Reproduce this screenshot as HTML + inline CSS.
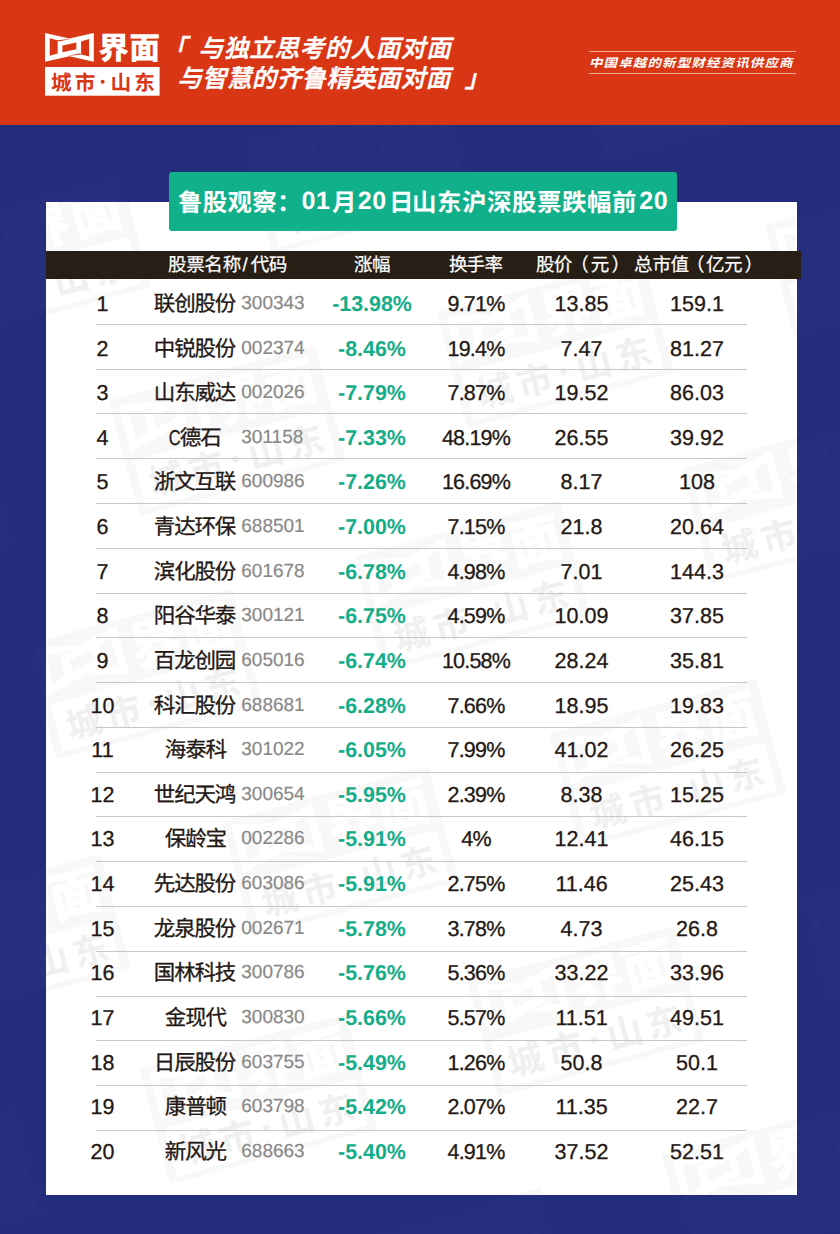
<!DOCTYPE html>
<html lang="zh-CN"><head><meta charset="utf-8"><title>鲁股观察：01月20日山东沪深股票跌幅前20</title><style>
*{box-sizing:border-box;margin:0;padding:0}
html,body{width:840px;height:1234px;overflow:hidden}
body{text-rendering:geometricPrecision;background:#232d7c;font-family:"Liberation Sans","Noto Sans CJK SC",sans-serif;color:#231815;position:relative}
svg text{font-family:"Liberation Sans","Noto Sans CJK SC",sans-serif}
svg.zh{display:inline-block;fill:currentColor;overflow:visible;vertical-align:top}
.top{position:absolute;left:0;top:0;width:840px;height:125px;background:#d93616;color:#fff}
.logo{position:absolute;left:45.3px;top:33.2px;overflow:visible}
.slogan{position:absolute;left:0;top:0}
.slogan .l1{position:absolute;left:-6px;top:35.3px;height:24px;white-space:nowrap}
.slogan .l2{position:absolute;left:-6px;top:65.3px;height:24px;white-space:nowrap}
.tagline{position:absolute;left:589px;top:51px;width:207px;height:22.5px;border-top:1px solid rgba(255,255,255,.6);border-bottom:1px solid rgba(255,255,255,.6);padding-top:4.2px;white-space:nowrap}
.tagline svg{margin-left:-3.6px}
.card{position:absolute;left:46px;top:202px;width:751px;height:993px;background:#fff}
.wm{position:absolute;left:0;top:0;overflow:hidden}

.wmbg{position:absolute;left:0;top:0;overflow:hidden}

.title{position:absolute;left:123px;top:-30px;width:508px;height:59.2px;background:#10b08b;border-radius:3px;color:#fff;font-weight:bold;font-size:24.6px;}
.title .t{position:absolute;top:16.7px;height:25px;line-height:25px;white-space:nowrap}
.title .t.d{font-size:25px;top:17px;letter-spacing:.6px}
.thead{position:absolute;left:0;top:49.2px;width:754.5px;height:27.4px;background:#271e15;color:#fff}
.thead .h{position:absolute;top:4.3px;height:19px;white-space:nowrap}
svg.hl{stroke:currentColor;stroke-width:12}
svg.sl{stroke:currentColor;stroke-width:20}
svg.nm{stroke:currentColor;stroke-width:14}
.lat+svg.nm{margin-right:1px}
.rows{position:absolute;left:0;top:78.2px;width:751px}
.row{position:relative;height:44.63px;margin:0 50.3px 0 49.9px;font-size:21.5px;-webkit-text-stroke:.3px currentColor;line-height:44.63px}
.ln{position:absolute;left:50.1px;width:650.8px;height:1px;background:#c9c6c1}
.c{position:absolute;transform:translateX(.8px);top:1.7px;height:44.63px;white-space:nowrap;text-align:center}
.c svg.zh{margin-top:10px}
.idx{left:-19.2px;width:50px}
.name{left:38.3px;width:120px}
.name .lat{display:inline-block;width:11.6px;margin-right:0;margin-left:0;text-align:left;font-size:21.5px;vertical-align:top;transform:scaleX(.77);transform-origin:left center}
.code{left:144.6px;text-align:left;color:#898989;font-size:19px;-webkit-text-stroke:.2px currentColor}
.pct{left:215.3px;width:120px;color:#14ad89;font-weight:bold;font-size:21.4px;-webkit-text-stroke:0}
.tr{left:319.3px;width:120px;letter-spacing:-.8px}
.pr{left:424.8px;width:120px}
.mc{left:540.3px;width:120px}
</style></head><body><svg width="0" height="0" style="position:absolute" aria-hidden="true"><defs><g id="wm"><path fill="#f8f8f8" d="M-4.8 -3.2H119.4V66H-4.8Z"/><g fill="#fff"><path fill-rule="evenodd" d="M0 0L24.4 5.6L48.8 0V28.8L24.4 23.2L0 28.8ZM4.7 5.2L12.7 7.3V20.4L4.7 22.7ZM44.1 23.6L36.1 21.5V8.4L44.1 6.1ZM17.45 12.45L31.35 9.55V16.35L17.45 19.25ZM12.7 7.3L26.5 5.7L13.6 8.5ZM36.1 21.5L22.3 23.1L35.2 20.3Z"/><text x="53.3 84.2" y="26.4" font-size="30.8" font-weight="900">界面</text><path d="M0 34H114.6V62.7H0Z"/></g><g fill="#f0f0f0"><text x="5.9 29.7" y="56.9" font-size="20.6" font-weight="bold">城市</text><circle cx="57.6" cy="48.8" r="2"/><text x="65.4 89.2" y="56.9" font-size="20.6" font-weight="bold">山东</text></g></g><g id="wmb"><path fill="#fff" fill-opacity=".007" d="M-4.8 -3.2H119.4V66H-4.8Z"/><g fill="#fff" fill-opacity=".013"><path fill-rule="evenodd" d="M0 0L24.4 5.6L48.8 0V28.8L24.4 23.2L0 28.8ZM4.7 5.2L12.7 7.3V20.4L4.7 22.7ZM44.1 23.6L36.1 21.5V8.4L44.1 6.1ZM17.45 12.45L31.35 9.55V16.35L17.45 19.25ZM12.7 7.3L26.5 5.7L13.6 8.5ZM36.1 21.5L22.3 23.1L35.2 20.3Z"/><text x="53.3 84.2" y="26.4" font-size="30.8" font-weight="900">界面</text><path d="M0 34H114.6V62.7H0Z"/></g></g></defs></svg><svg class="wmbg" aria-hidden="true" width="840" height="1234" viewBox="0 0 840 1234"><use href="#wmb" transform="translate(5.42 -16.88) rotate(-15) scale(1.72)"/><use href="#wmb" transform="translate(333.25 -104.72) rotate(-15) scale(1.72)"/><use href="#wmb" transform="translate(-76.71 230.66) rotate(-15) scale(1.72)"/><use href="#wmb" transform="translate(251.12 142.82) rotate(-15) scale(1.72)"/><use href="#wmb" transform="translate(578.96 54.98) rotate(-15) scale(1.72)"/><use href="#wmb" transform="translate(-209.65 491.82) rotate(-15) scale(1.72)"/><use href="#wmb" transform="translate(118.18 403.98) rotate(-15) scale(1.72)"/><use href="#wmb" transform="translate(446.02 316.13) rotate(-15) scale(1.72)"/><use href="#wmb" transform="translate(773.85 228.29) rotate(-15) scale(1.72)"/><use href="#wmb" transform="translate(35.02 647.65) rotate(-15) scale(1.72)"/><use href="#wmb" transform="translate(362.85 559.81) rotate(-15) scale(1.72)"/><use href="#wmb" transform="translate(690.69 471.97) rotate(-15) scale(1.72)"/><use href="#wmb" transform="translate(-96.88 912.67) rotate(-15) scale(1.72)"/><use href="#wmb" transform="translate(230.95 824.83) rotate(-15) scale(1.72)"/><use href="#wmb" transform="translate(558.79 736.99) rotate(-15) scale(1.72)"/><use href="#wmb" transform="translate(886.62 649.14) rotate(-15) scale(1.72)"/><use href="#wmb" transform="translate(-179.01 1160.22) rotate(-15) scale(1.72)"/><use href="#wmb" transform="translate(148.82 1072.37) rotate(-15) scale(1.72)"/><use href="#wmb" transform="translate(476.66 984.53) rotate(-15) scale(1.72)"/><use href="#wmb" transform="translate(804.49 896.69) rotate(-15) scale(1.72)"/><use href="#wmb" transform="translate(15.88 1333.53) rotate(-15) scale(1.72)"/><use href="#wmb" transform="translate(343.72 1245.68) rotate(-15) scale(1.72)"/><use href="#wmb" transform="translate(671.55 1157.84) rotate(-15) scale(1.72)"/></svg>
<header class="top">
  <svg class="logo" role="img" aria-label="界面 城市·山东" width="116" height="64" viewBox="0 0 116 64"><title>界面 城市·山东</title>
    <g fill="#fff"><path fill-rule="evenodd" d="M0 0L24.4 5.6L48.8 0V28.8L24.4 23.2L0 28.8ZM4.7 5.2L12.7 7.3V20.4L4.7 22.7ZM44.1 23.6L36.1 21.5V8.4L44.1 6.1ZM17.45 12.45L31.35 9.55V16.35L17.45 19.25ZM12.7 7.3L26.5 5.7L13.6 8.5ZM36.1 21.5L22.3 23.1L35.2 20.3Z"/><text x="53.3 84.2" y="26.4" font-size="30.8" font-weight="900">界面</text><rect x="0" y="34" width="114.6" height="28.7"/></g>
    <g fill="#d93616"><text x="5.9 29.7" y="56.9" font-size="20.6" font-weight="bold">城市</text><circle cx="57.6" cy="48.8" r="2"/><text x="65.4 89.2" y="56.9" font-size="20.6" font-weight="bold">山东</text></g>
  </svg>
  <div class="slogan">
    <div class="l1"><svg class="zh sl" role="img" aria-label="「与独立思考的人面对面" width="512" height="25.3" viewBox="-237.15 -880 20237.15 1000"><title>「与独立思考的人面对面</title><g transform="skewX(-12)"><text x="6407.11 7849.8 8849.8 9849.8 10849.8 11849.8 12849.8 13849.8 14849.8 15849.8 16849.8" y="0" font-size="970" font-weight="500">「与独立思考的人面对面</text></g></svg></div>
    <div class="l2"><svg class="zh sl" role="img" aria-label="与智慧的齐鲁精英面对面」" width="512" height="25.3" viewBox="-237.15 -880 20237.15 1000"><title>与智慧的齐鲁精英面对面」</title><g transform="skewX(-12)"><text x="7007.91 7990.12 8972.33 9954.55 10936.76 11918.97 12901.19 13883.4 14865.61 15847.83 16830.04 18371.54" y="0" font-size="970" font-weight="500">与智慧的齐鲁精英面对面」</text></g></svg></div>
  </div>
  <div class="tagline"><svg class="zh" role="img" aria-label="中国卓越的新型财经资讯供应商" width="212.68" height="12" viewBox="-333.33 -880 17723.33 1000"><title>中国卓越的新型财经资讯供应商</title><g transform="skewX(-14)"><text transform="scale(1.12 1)" x="0" y="0" font-size="1000" font-weight="bold" letter-spacing="87.8">中国卓越的新型财经资讯供应商</text></g></svg></div>
</header>
<main class="card"><svg class="wm" aria-hidden="true" width="751" height="993" viewBox="0 0 751 993"><use href="#wm" transform="translate(-40.58 -218.88) rotate(-15) scale(1.72)"/><use href="#wm" transform="translate(287.25 -306.72) rotate(-15) scale(1.72)"/><use href="#wm" transform="translate(-122.71 28.66) rotate(-15) scale(1.72)"/><use href="#wm" transform="translate(205.12 -59.18) rotate(-15) scale(1.72)"/><use href="#wm" transform="translate(532.96 -147.02) rotate(-15) scale(1.72)"/><use href="#wm" transform="translate(-255.65 289.82) rotate(-15) scale(1.72)"/><use href="#wm" transform="translate(72.18 201.98) rotate(-15) scale(1.72)"/><use href="#wm" transform="translate(400.02 114.13) rotate(-15) scale(1.72)"/><use href="#wm" transform="translate(727.85 26.29) rotate(-15) scale(1.72)"/><use href="#wm" transform="translate(-10.98 445.65) rotate(-15) scale(1.72)"/><use href="#wm" transform="translate(316.85 357.81) rotate(-15) scale(1.72)"/><use href="#wm" transform="translate(644.69 269.97) rotate(-15) scale(1.72)"/><use href="#wm" transform="translate(-142.88 710.67) rotate(-15) scale(1.72)"/><use href="#wm" transform="translate(184.95 622.83) rotate(-15) scale(1.72)"/><use href="#wm" transform="translate(512.79 534.99) rotate(-15) scale(1.72)"/><use href="#wm" transform="translate(840.62 447.14) rotate(-15) scale(1.72)"/><use href="#wm" transform="translate(-225.01 958.22) rotate(-15) scale(1.72)"/><use href="#wm" transform="translate(102.82 870.37) rotate(-15) scale(1.72)"/><use href="#wm" transform="translate(430.66 782.53) rotate(-15) scale(1.72)"/><use href="#wm" transform="translate(758.49 694.69) rotate(-15) scale(1.72)"/><use href="#wm" transform="translate(-30.12 1131.53) rotate(-15) scale(1.72)"/><use href="#wm" transform="translate(297.72 1043.68) rotate(-15) scale(1.72)"/><use href="#wm" transform="translate(625.55 955.84) rotate(-15) scale(1.72)"/></svg><h1 class="title"><span class="t" style="left:9.1px"><svg class="zh" role="img" aria-label="鲁股观察：" width="123.75" height="24.5" viewBox="0 -880 5051.02 1000"><title>鲁股观察：</title><text x="0 1010.2 2020.41 3030.61 4040.82" y="0" font-size="1000" font-weight="bold">鲁股观察：</text></svg></span><span class="t d" style="left:132.6px">01</span><span class="t" style="left:163.3px"><svg class="zh" role="img" aria-label="月" width="24.5" height="24.5" viewBox="0 -880 1000 1000"><title>月</title><text x="0" y="0" font-size="1000" font-weight="bold">月</text></svg></span><span class="t d" style="left:188.8px">20</span><span class="t" style="left:219.5px"><svg class="zh" role="img" aria-label="日" width="24.5" height="24.5" viewBox="0 -880 1000 1000"><title>日</title><text x="0" y="0" font-size="1000" font-weight="bold">日</text></svg></span><span class="t" style="left:243px"><svg class="zh" role="img" aria-label="山东沪深股票跌幅前" width="225" height="24.5" viewBox="0 -880 9183.67 1000"><title>山东沪深股票跌幅前</title><text x="0 1020.41 2040.82 3061.22 4081.63 5102.04 6122.45 7142.86 8163.27" y="0" font-size="1000" font-weight="bold">山东沪深股票跌幅前</text></svg></span><span class="t d" style="left:470.2px">20</span></h1><div class="thead"><span class="h" style="left:122.07px"><svg class="zh hl" role="img" aria-label="股票名称/代码" width="118.81" height="18.1" viewBox="0 -880 6564.01 1000"><title>股票名称/代码</title><text x="0 1007.57 2004.57 3024.1 4123.45 4577.54 5564.01" y="0" font-size="1000">股票名称/代码</text></svg></span><span class="h" style="left:308.4px"><svg class="zh hl" role="img" aria-label="涨幅" width="36" height="18.1" viewBox="0 -880 1989.1 1000"><title>涨幅</title><text x="0 989.1" y="0" font-size="1000">涨幅</text></svg></span><span class="h" style="left:403.05px"><svg class="zh hl" role="img" aria-label="换手率" width="53.53" height="18.1" viewBox="0 -880 2957.38 1000"><title>换手率</title><text x="0 969.43 1957.38" y="0" font-size="1000">换手率</text></svg></span><span class="h" style="left:490.07px"><svg class="zh hl" role="img" aria-label="股价（元）" width="93.6" height="18.1" viewBox="0 -880 5171.32 1000"><title>股价（元）</title><text x="0 986.95 1898.01 3031.2 4171.32" y="0" font-size="1000">股价（元）</text></svg></span><span class="h" style="left:588.42px"><svg class="zh hl" role="img" aria-label="总市值（亿元）" width="128.65" height="18.1" viewBox="0 -880 7107.5 1000"><title>总市值（亿元）</title><text x="0 1019.62 2011 2867.34 3978.85 4967.38 6107.5" y="0" font-size="1000">总市值（亿元）</text></svg></span></div><div class="rows"><div class="row"><span class="c idx">1</span><span class="c name"><svg class="zh nm" role="img" aria-label="联创股份" width="81.4" height="21.2" viewBox="0 -880 3839.62 1000"><title>联创股份</title><text x="0 959.91 1919.81 2879.72" y="0" font-size="1000">联创股份</text></svg></span><span class="c code">300343</span><span class="c pct">-13.98%</span><span class="c tr">9.71%</span><span class="c pr">13.85</span><span class="c mc">159.1</span></div>
<div class="row"><span class="c idx">2</span><span class="c name"><svg class="zh nm" role="img" aria-label="中锐股份" width="81.4" height="21.2" viewBox="0 -880 3839.62 1000"><title>中锐股份</title><text x="0 959.91 1919.81 2879.72" y="0" font-size="1000">中锐股份</text></svg></span><span class="c code">002374</span><span class="c pct">-8.46%</span><span class="c tr">19.4%</span><span class="c pr">7.47</span><span class="c mc">81.27</span></div>
<div class="row"><span class="c idx">3</span><span class="c name"><svg class="zh nm" role="img" aria-label="山东威达" width="81.4" height="21.2" viewBox="0 -880 3839.62 1000"><title>山东威达</title><text x="0 959.91 1919.81 2879.72" y="0" font-size="1000">山东威达</text></svg></span><span class="c code">002026</span><span class="c pct">-7.79%</span><span class="c tr">7.87%</span><span class="c pr">19.52</span><span class="c mc">86.03</span></div>
<div class="row"><span class="c idx">4</span><span class="c name"><span class="lat">C</span><svg class="zh nm" role="img" aria-label="德石" width="40.7" height="21.2" viewBox="0 -880 1919.81 1000"><title>德石</title><text x="0 959.91" y="0" font-size="1000">德石</text></svg></span><span class="c code">301158</span><span class="c pct">-7.33%</span><span class="c tr">48.19%</span><span class="c pr">26.55</span><span class="c mc">39.92</span></div>
<div class="row"><span class="c idx">5</span><span class="c name"><svg class="zh nm" role="img" aria-label="浙文互联" width="81.4" height="21.2" viewBox="0 -880 3839.62 1000"><title>浙文互联</title><text x="0 959.91 1919.81 2879.72" y="0" font-size="1000">浙文互联</text></svg></span><span class="c code">600986</span><span class="c pct">-7.26%</span><span class="c tr">16.69%</span><span class="c pr">8.17</span><span class="c mc">108</span></div>
<div class="row"><span class="c idx">6</span><span class="c name"><svg class="zh nm" role="img" aria-label="青达环保" width="81.4" height="21.2" viewBox="0 -880 3839.62 1000"><title>青达环保</title><text x="0 959.91 1919.81 2879.72" y="0" font-size="1000">青达环保</text></svg></span><span class="c code">688501</span><span class="c pct">-7.00%</span><span class="c tr">7.15%</span><span class="c pr">21.8</span><span class="c mc">20.64</span></div>
<div class="row"><span class="c idx">7</span><span class="c name"><svg class="zh nm" role="img" aria-label="滨化股份" width="81.4" height="21.2" viewBox="0 -880 3839.62 1000"><title>滨化股份</title><text x="0 959.91 1919.81 2879.72" y="0" font-size="1000">滨化股份</text></svg></span><span class="c code">601678</span><span class="c pct">-6.78%</span><span class="c tr">4.98%</span><span class="c pr">7.01</span><span class="c mc">144.3</span></div>
<div class="row"><span class="c idx">8</span><span class="c name"><svg class="zh nm" role="img" aria-label="阳谷华泰" width="81.4" height="21.2" viewBox="0 -880 3839.62 1000"><title>阳谷华泰</title><text x="0 959.91 1919.81 2879.72" y="0" font-size="1000">阳谷华泰</text></svg></span><span class="c code">300121</span><span class="c pct">-6.75%</span><span class="c tr">4.59%</span><span class="c pr">10.09</span><span class="c mc">37.85</span></div>
<div class="row"><span class="c idx">9</span><span class="c name"><svg class="zh nm" role="img" aria-label="百龙创园" width="81.4" height="21.2" viewBox="0 -880 3839.62 1000"><title>百龙创园</title><text x="0 959.91 1919.81 2879.72" y="0" font-size="1000">百龙创园</text></svg></span><span class="c code">605016</span><span class="c pct">-6.74%</span><span class="c tr">10.58%</span><span class="c pr">28.24</span><span class="c mc">35.81</span></div>
<div class="row"><span class="c idx">10</span><span class="c name"><svg class="zh nm" role="img" aria-label="科汇股份" width="81.4" height="21.2" viewBox="0 -880 3839.62 1000"><title>科汇股份</title><text x="0 959.91 1919.81 2879.72" y="0" font-size="1000">科汇股份</text></svg></span><span class="c code">688681</span><span class="c pct">-6.28%</span><span class="c tr">7.66%</span><span class="c pr">18.95</span><span class="c mc">19.83</span></div>
<div class="row"><span class="c idx">11</span><span class="c name"><svg class="zh nm" role="img" aria-label="海泰科" width="61.05" height="21.2" viewBox="0 -880 2879.72 1000"><title>海泰科</title><text x="0 959.91 1919.81" y="0" font-size="1000">海泰科</text></svg></span><span class="c code">301022</span><span class="c pct">-6.05%</span><span class="c tr">7.99%</span><span class="c pr">41.02</span><span class="c mc">26.25</span></div>
<div class="row"><span class="c idx">12</span><span class="c name"><svg class="zh nm" role="img" aria-label="世纪天鸿" width="81.4" height="21.2" viewBox="0 -880 3839.62 1000"><title>世纪天鸿</title><text x="0 959.91 1919.81 2879.72" y="0" font-size="1000">世纪天鸿</text></svg></span><span class="c code">300654</span><span class="c pct">-5.95%</span><span class="c tr">2.39%</span><span class="c pr">8.38</span><span class="c mc">15.25</span></div>
<div class="row"><span class="c idx">13</span><span class="c name"><svg class="zh nm" role="img" aria-label="保龄宝" width="61.05" height="21.2" viewBox="0 -880 2879.72 1000"><title>保龄宝</title><text x="0 959.91 1919.81" y="0" font-size="1000">保龄宝</text></svg></span><span class="c code">002286</span><span class="c pct">-5.91%</span><span class="c tr">4%</span><span class="c pr">12.41</span><span class="c mc">46.15</span></div>
<div class="row"><span class="c idx">14</span><span class="c name"><svg class="zh nm" role="img" aria-label="先达股份" width="81.4" height="21.2" viewBox="0 -880 3839.62 1000"><title>先达股份</title><text x="0 959.91 1919.81 2879.72" y="0" font-size="1000">先达股份</text></svg></span><span class="c code">603086</span><span class="c pct">-5.91%</span><span class="c tr">2.75%</span><span class="c pr">11.46</span><span class="c mc">25.43</span></div>
<div class="row"><span class="c idx">15</span><span class="c name"><svg class="zh nm" role="img" aria-label="龙泉股份" width="81.4" height="21.2" viewBox="0 -880 3839.62 1000"><title>龙泉股份</title><text x="0 959.91 1919.81 2879.72" y="0" font-size="1000">龙泉股份</text></svg></span><span class="c code">002671</span><span class="c pct">-5.78%</span><span class="c tr">3.78%</span><span class="c pr">4.73</span><span class="c mc">26.8</span></div>
<div class="row"><span class="c idx">16</span><span class="c name"><svg class="zh nm" role="img" aria-label="国林科技" width="81.4" height="21.2" viewBox="0 -880 3839.62 1000"><title>国林科技</title><text x="0 959.91 1919.81 2879.72" y="0" font-size="1000">国林科技</text></svg></span><span class="c code">300786</span><span class="c pct">-5.76%</span><span class="c tr">5.36%</span><span class="c pr">33.22</span><span class="c mc">33.96</span></div>
<div class="row"><span class="c idx">17</span><span class="c name"><svg class="zh nm" role="img" aria-label="金现代" width="61.05" height="21.2" viewBox="0 -880 2879.72 1000"><title>金现代</title><text x="0 959.91 1919.81" y="0" font-size="1000">金现代</text></svg></span><span class="c code">300830</span><span class="c pct">-5.66%</span><span class="c tr">5.57%</span><span class="c pr">11.51</span><span class="c mc">49.51</span></div>
<div class="row"><span class="c idx">18</span><span class="c name"><svg class="zh nm" role="img" aria-label="日辰股份" width="81.4" height="21.2" viewBox="0 -880 3839.62 1000"><title>日辰股份</title><text x="0 959.91 1919.81 2879.72" y="0" font-size="1000">日辰股份</text></svg></span><span class="c code">603755</span><span class="c pct">-5.49%</span><span class="c tr">1.26%</span><span class="c pr">50.8</span><span class="c mc">50.1</span></div>
<div class="row"><span class="c idx">19</span><span class="c name"><svg class="zh nm" role="img" aria-label="康普顿" width="61.05" height="21.2" viewBox="0 -880 2879.72 1000"><title>康普顿</title><text x="0 959.91 1919.81" y="0" font-size="1000">康普顿</text></svg></span><span class="c code">603798</span><span class="c pct">-5.42%</span><span class="c tr">2.07%</span><span class="c pr">11.35</span><span class="c mc">22.7</span></div>
<div class="row"><span class="c idx">20</span><span class="c name"><svg class="zh nm" role="img" aria-label="新风光" width="61.05" height="21.2" viewBox="0 -880 2879.72 1000"><title>新风光</title><text x="0 959.91 1919.81" y="0" font-size="1000">新风光</text></svg></span><span class="c code">688663</span><span class="c pct">-5.40%</span><span class="c tr">4.91%</span><span class="c pr">37.52</span><span class="c mc">52.51</span></div><i class="ln" style="top:43.6px"></i><i class="ln" style="top:88.39px"></i><i class="ln" style="top:133.18px"></i><i class="ln" style="top:177.97px"></i><i class="ln" style="top:222.76px"></i><i class="ln" style="top:267.55px"></i><i class="ln" style="top:312.34px"></i><i class="ln" style="top:357.13px"></i><i class="ln" style="top:401.92px"></i><i class="ln" style="top:446.71px"></i><i class="ln" style="top:491.5px"></i><i class="ln" style="top:536.29px"></i><i class="ln" style="top:581.08px"></i><i class="ln" style="top:625.87px"></i><i class="ln" style="top:670.66px"></i><i class="ln" style="top:715.45px"></i><i class="ln" style="top:760.24px"></i><i class="ln" style="top:805.03px"></i><i class="ln" style="top:849.82px"></i></div></main></body></html>
